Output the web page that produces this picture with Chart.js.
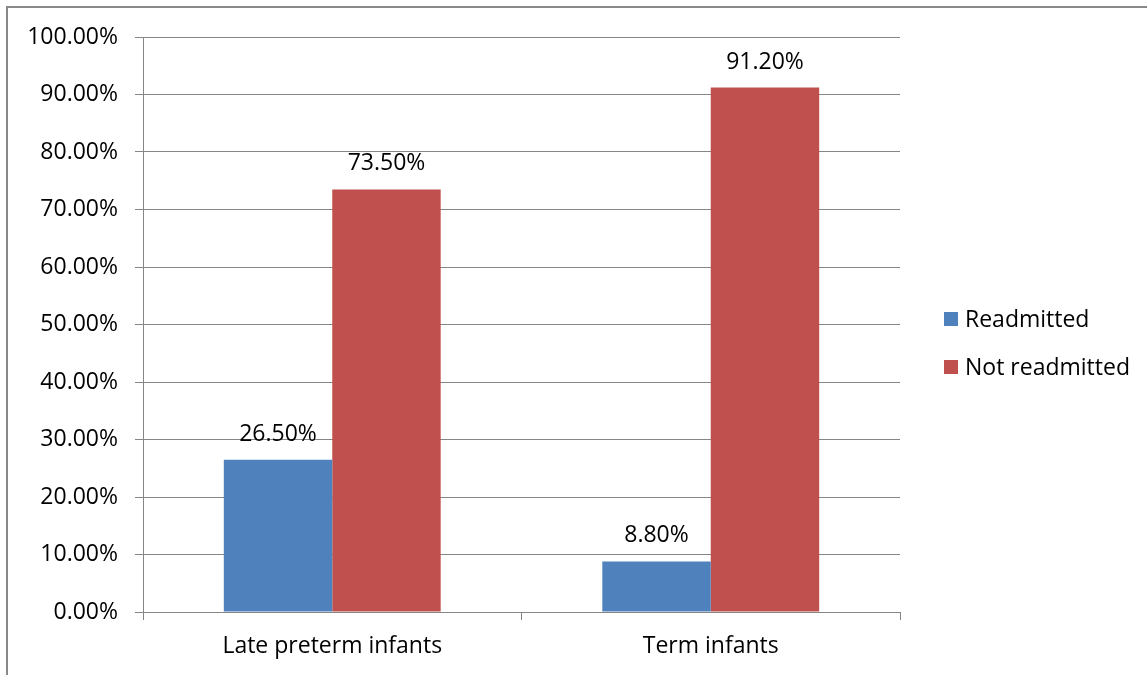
<!DOCTYPE html>
<html>
<head>
<meta charset="utf-8">
<script src="https://cdn.jsdelivr.net/npm/chart.js@4/dist/chart.umd.min.js"></script>
<style>
  html, body { margin: 0; padding: 0; background: #ffffff; }
  #wrap { width: 1147px; height: 675px; position: relative; }
</style>
</head>
<body>
<div id="wrap"><canvas id="chart"></canvas></div>
<script>
// Readmission outcome by gestational group (percent of infants)
const categories = ['Late preterm infants', 'Term infants'];
const seriesNames = ['Readmitted', 'Not readmitted'];
const readmitted = [26.5, 8.8];
const notReadmitted = [73.5, 91.2];
const yTickMax = 100;
const yTickStep = 10;

const FONT = '"Open Sans", "Liberation Sans", Arial, sans-serif';
const FONT_SIZE = 23;
const GRID = '#868686';
const COLORS = ['#4F81BD', '#C0504D'];

// Outer frame around the chart
const framePlugin = {
  id: 'frame',
  beforeDraw(chart) {
    const ctx = chart.ctx;
    ctx.save();
    ctx.fillStyle = '#ffffff';
    ctx.fillRect(0, 0, chart.width, chart.height);
    ctx.strokeStyle = '#898989';
    ctx.lineWidth = 2;
    ctx.beginPath();
    ctx.moveTo(7, chart.height);
    ctx.lineTo(7, 7);
    ctx.lineTo(chart.width, 7);
    ctx.stroke();
    ctx.restore();
  }
};

// Value labels above each bar
const valueLabels = {
  id: 'valueLabels',
  afterDatasetsDraw(chart) {
    const ctx = chart.ctx;
    ctx.save();
    ctx.font = FONT_SIZE + 'px ' + FONT;
    ctx.fillStyle = '#000000';
    ctx.textAlign = 'center';
    ctx.textBaseline = 'alphabetic';
    chart.data.datasets.forEach((ds, i) => {
      chart.getDatasetMeta(i).data.forEach((bar, j) => {
        ctx.fillText(ds.data[j].toFixed(2) + '%', bar.x, bar.y - 19);
      });
    });
    ctx.restore();
  }
};

// Legend on the right, square swatches
const sideLegend = {
  id: 'sideLegend',
  afterDraw(chart) {
    const ctx = chart.ctx;
    ctx.save();
    ctx.font = FONT_SIZE + 'px ' + FONT;
    ctx.textBaseline = 'middle';
    ctx.textAlign = 'left';
    const x0 = 944, y0 = 319, gap = 48, sw = 14;
    chart.data.datasets.forEach((ds, i) => {
      const y = y0 + i * gap;
      ctx.fillStyle = ds.backgroundColor;
      ctx.fillRect(x0, y - sw / 2, sw, sw);
      ctx.fillStyle = '#000000';
      ctx.fillText(ds.label, x0 + 21, y + 1);
    });
    ctx.restore();
  }
};

const datasets = [readmitted, notReadmitted].map((vals, i) => ({
  label: seriesNames[i],
  data: vals,
  backgroundColor: COLORS[i],
  borderWidth: 0,
  categoryPercentage: 0.573,
  barPercentage: 1.0
}));

new Chart(document.getElementById('chart'), {
  type: 'bar',
  data: { labels: categories, datasets },
  options: {
    responsive: true,
    maintainAspectRatio: false,
    animation: false,
    devicePixelRatio: 1,
    layout: { padding: { top: 37, right: 247, left: 0, bottom: 0 } },
    plugins: {
      legend: { display: false },
      tooltip: { enabled: false }
    },
    scales: {
      x: {
        afterFit(s) { s.height = 63; },
        grid: {
          offset: true,
          drawOnChartArea: false,
          drawTicks: true,
          tickLength: 8,
          color: GRID,
          lineWidth: 1
        },
        border: { color: GRID, width: 1 },
        ticks: {
          color: '#000000',
          font: { family: FONT, size: FONT_SIZE },
          padding: 13,
          maxRotation: 0
        }
      },
      y: {
        min: 0,
        max: yTickMax,
        afterFit(s) { s.width = 143; },
        grid: {
          drawOnChartArea: true,
          tickLength: 8,
          color: GRID,
          lineWidth: 1
        },
        border: { color: GRID, width: 1 },
        ticks: {
          stepSize: yTickStep,
          color: '#000000',
          font: { family: FONT, size: FONT_SIZE },
          padding: 17,
          callback: v => v.toFixed(2) + '%'
        }
      }
    }
  },
  plugins: [framePlugin, valueLabels, sideLegend]
});
</script>
</body>
</html>
